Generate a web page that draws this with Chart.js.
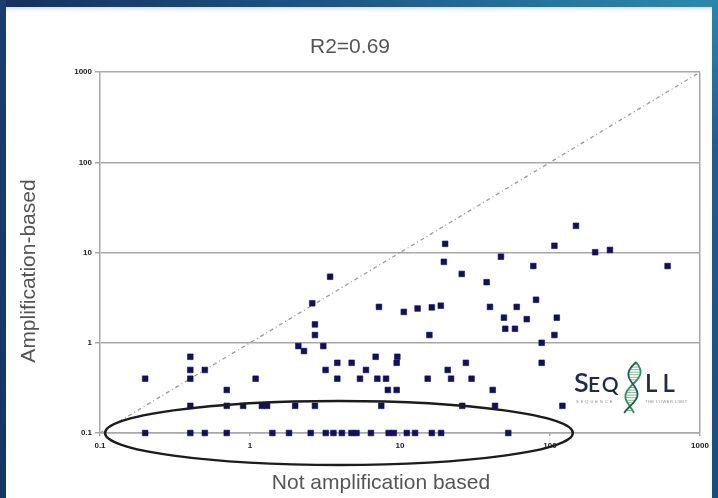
<!DOCTYPE html>
<html><head><meta charset="utf-8">
<script src="https://cdn.jsdelivr.net/npm/chart.js@4.4.0/dist/chart.umd.min.js"></script>
<style>html,body{margin:0;padding:0;background:#fff;}#wrap{width:718px;height:498px;position:relative;overflow:hidden}</style>
</head><body><div id="wrap"><canvas id="c" width="718" height="498"></canvas></div>
<script>
const titleText = 'R2=0.69';
const xTitle = 'Not amplification based';
const yTitle = 'Amplification-based';
const tickValues = [0.1, 1, 10, 100, 1000];
const tickLabels = ['0.1', '1', '10', '100', '1000'];

// points sitting on the 0.1 line
const row01X = [0.2, 0.4, 0.5, 0.7, 1.41, 1.82, 2.54, 3.2, 3.6, 4.1, 4.75, 5.13, 6.4, 8.4, 9.1, 11.1, 12.6, 16.3, 18.8, 52.7];
// points sitting on the 0.2 line
const row02X = [0.4, 0.7, 0.9, 1.2, 1.3, 2.0, 2.71, 7.5, 26, 43, 121];
// remaining points
const otherX = [0.2, 0.4, 0.4, 0.5, 0.4, 1.09, 0.7, 2.1, 2.71, 15.7, 2.29, 3.08, 3.82, 3.19, 3.82, 4.76, 5.41, 5.93, 6.88, 7.06, 8.07, 9.6, 9.5, 8.3, 9.5, 15.3, 20.8, 21.9, 27.5, 30,
  20, 19.6, 25.8, 3.42, 2.6, 7.24, 10.6, 13.1, 16.3, 18.7, 2.71,
  149, 107, 200, 251, 608, 47.1, 77.4, 37.8, 80.7, 39.8, 60, 49.3, 70, 111, 50.3, 58.4, 107, 88, 88, 41.5];
const otherY = [0.4, 0.7, 0.5, 0.5, 0.4, 0.4, 0.3, 0.92, 1.22, 1.22, 0.81, 0.92, 0.6, 0.5, 0.4, 0.6, 0.4, 0.5, 0.7, 0.4, 0.4, 0.7, 0.6, 0.3, 0.3, 0.4, 0.5, 0.4, 0.6, 0.4,
  12.5, 7.9, 5.8, 5.4, 2.74, 2.5, 2.2, 2.4, 2.47, 2.58, 1.6,
  19.8, 11.9, 10.1, 10.7, 7.1, 9.0, 7.1, 4.7, 3.0, 2.5, 2.5, 1.9, 1.83, 1.9, 1.43, 1.43, 1.22, 1.0, 0.6, 0.3];

const diagonalVals = [0.1, 1000];
const ellipseX = [0.108, 142];        // left / right ends (data units)
const ellipseY = [0.045, 0.1, 0.23];  // bottom / centre / top (data units)

const points = [];
row01X.forEach(x => points.push({x: x, y: 0.1}));
row02X.forEach(x => points.push({x: x, y: 0.2}));
otherX.forEach((x, i) => points.push({x: x, y: otherY[i]}));
const diagonal = diagonalVals.map(v => ({x: v, y: v}));

const GRID = '#a8a8a8';
const FONT = "'Liberation Sans', Arial, sans-serif";

const framePlugin = {
  id: 'frame',
  beforeDraw(chart) {
    const ctx = chart.ctx, W = chart.width, H = chart.height;
    ctx.save();
    ctx.fillStyle = '#ffffff';
    ctx.fillRect(0, 0, W, H);
    const g = ctx.createLinearGradient(0, 0, W, 0);
    g.addColorStop(0, '#15305f');
    g.addColorStop(0.5, '#1d5a8a');
    g.addColorStop(1, '#2b8bad');
    ctx.fillStyle = g;
    ctx.fillRect(0, 0, W, 7);
    const g2 = ctx.createLinearGradient(0, 7, 0, 14);
    g2.addColorStop(0, 'rgba(120,170,200,0.35)');
    g2.addColorStop(1, 'rgba(255,255,255,0)');
    ctx.fillStyle = g2;
    ctx.fillRect(0, 7, W, 7);
    const g3 = ctx.createLinearGradient(0, 0, 0, H);
    g3.addColorStop(0, '#1a3d70');
    g3.addColorStop(1, '#163563');
    ctx.fillStyle = g3;
    ctx.fillRect(0, 0, 6, H);
    const g4 = ctx.createLinearGradient(0, 0, 0, H);
    g4.addColorStop(0, '#2b86aa');
    g4.addColorStop(0.3, '#1f5d8e');
    g4.addColorStop(1, '#1b4a7c');
    ctx.fillStyle = g4;
    ctx.fillRect(712, 0, 6, H);
    ctx.restore();
  },
  afterDraw(chart) {
    const ctx = chart.ctx;
    const xs = chart.scales.x, ys = chart.scales.y;
    // ellipse annotation
    const l = xs.getPixelForValue(ellipseX[0]), r = xs.getPixelForValue(ellipseX[1]);
    const b = ys.getPixelForValue(ellipseY[0]), c = ys.getPixelForValue(ellipseY[1]), t = ys.getPixelForValue(ellipseY[2]);
    ctx.save();
    ctx.strokeStyle = '#1c1c1c';
    ctx.lineWidth = 2.4;
    ctx.beginPath();
    ctx.ellipse((l + r) / 2, c, (r - l) / 2, (b - t) / 2, 0, 0, Math.PI * 2);
    ctx.stroke();
    // axis titles
    ctx.fillStyle = '#555555';
    ctx.font = '21px ' + FONT;
    ctx.textAlign = 'center';
    ctx.textBaseline = 'middle';
    ctx.fillText(xTitle, 381, 483);
    ctx.translate(29, 271);
    ctx.rotate(-Math.PI / 2);
    ctx.fillText(yTitle, 0, 0);
    ctx.restore();
    // logo
    ctx.save();
    ctx.fillStyle = '#1f2a4c';
    ctx.textBaseline = 'alphabetic';
    ctx.textAlign = 'left';
    ctx.font = '600 27px Lato, ' + FONT;
    ctx.fillText('S', 574, 392);
    ctx.font = '600 21px Lato, ' + FONT;
    ctx.letterSpacing = '2px';
    ctx.fillText('EQ', 588, 392);
    ctx.font = '600 24px Lato, ' + FONT;
    ctx.letterSpacing = '5px';
    ctx.fillText('LL', 645, 392);
    ctx.letterSpacing = '2px';
    ctx.fillStyle = '#8a8a8a';
    ctx.font = '4px ' + FONT;
    ctx.fillText('SEQUENCE', 576, 403);
    ctx.letterSpacing = '0.5px';
    ctx.fillText('THE LOWER LIMIT', 645, 403);
    ctx.letterSpacing = '0px';
    // helix
    const top = 362, h = 51;
    const strand = (ph) => {
      ctx.beginPath();
      for (let i = 0; i <= 40; i++) {
        const s = i / 40;
        const x = 636 - 7 * s + 6 * Math.sin(s * 2.3 * Math.PI + ph);
        const y = top + s * h;
        if (i === 0) ctx.moveTo(x, y); else ctx.lineTo(x, y);
      }
      ctx.stroke();
    };
    ctx.strokeStyle = '#6cb58a';
    ctx.lineWidth = 0.9;
    for (let i = 1; i < 20; i++) {
      const s = i / 20;
      const y = top + s * h;
      const x1 = 636 - 7 * s + 6 * Math.sin(s * 2.3 * Math.PI);
      const x2 = 636 - 7 * s + 6 * Math.sin(s * 2.3 * Math.PI + Math.PI);
      ctx.beginPath(); ctx.moveTo(x1, y); ctx.lineTo(x2, y); ctx.stroke();
    }
    ctx.lineWidth = 1.8;
    ctx.strokeStyle = '#2f8f5a';
    strand(0);
    ctx.strokeStyle = '#1f5a4a';
    strand(Math.PI);
    ctx.restore();
  }
};

new Chart(document.getElementById('c'), {
  type: 'scatter',
  data: {
    datasets: [
      {
        type: 'line',
        data: diagonal,
        borderColor: '#9a9a9a',
        borderWidth: 1.3,
        borderDash: [4, 3, 1, 3],
        pointRadius: 0,
        fill: false,
        order: 2
      },
      {
        data: points,
        pointStyle: 'rect',
        pointRadius: 4,
        backgroundColor: '#10105c',
        borderColor: '#10105c',
        borderWidth: 0.6,
        clip: false,
        order: 1
      }
    ]
  },
  options: {
    responsive: false,
    animation: false,
    devicePixelRatio: 1,
    layout: { padding: { left: 0, right: 18, top: 0, bottom: 0 } },
    plugins: {
      legend: { display: false },
      tooltip: { enabled: false },
      title: {
        display: true,
        text: titleText,
        color: '#555555',
        font: { family: FONT, size: 21, weight: 'normal', lineHeight: 1.2 },
        padding: { top: 35, bottom: 12 }
      }
    },
    scales: {
      x: {
        type: 'logarithmic',
        min: 0.1, max: 1000,
        afterFit: s => { s.height = 65; },
        afterBuildTicks: s => { s.ticks = tickValues.map(v => ({ value: v })); },
        ticks: {
          autoSkip: false, maxRotation: 0, padding: 5,
          color: '#222',
          font: { family: FONT, size: 8, weight: 'bold' },
          callback: (v) => { const i = tickValues.indexOf(v); return i >= 0 ? tickLabels[i] : ''; }
        },
        grid: {
          color: (ctx) => (ctx.tick && ctx.tick.value === 1000) ? GRID : 'rgba(0,0,0,0)',
          tickColor: GRID,
          lineWidth: 1.5,
          tickLength: 3
        },
        border: { display: true, color: GRID, width: 1.5 }
      },
      y: {
        type: 'logarithmic',
        min: 0.1, max: 1000,
        afterFit: s => { s.width = 100; },
        afterBuildTicks: s => { s.ticks = tickValues.map(v => ({ value: v })); },
        ticks: {
          autoSkip: false, padding: 3,
          color: '#222',
          font: { family: FONT, size: 8, weight: 'bold' },
          callback: (v) => { const i = tickValues.indexOf(v); return i >= 0 ? tickLabels[i] : ''; }
        },
        grid: { color: GRID, lineWidth: 1.5, tickLength: 5 },
        border: { display: true, color: GRID, width: 1.5 }
      }
    }
  },
  plugins: [framePlugin]
});
</script>
</body></html>
